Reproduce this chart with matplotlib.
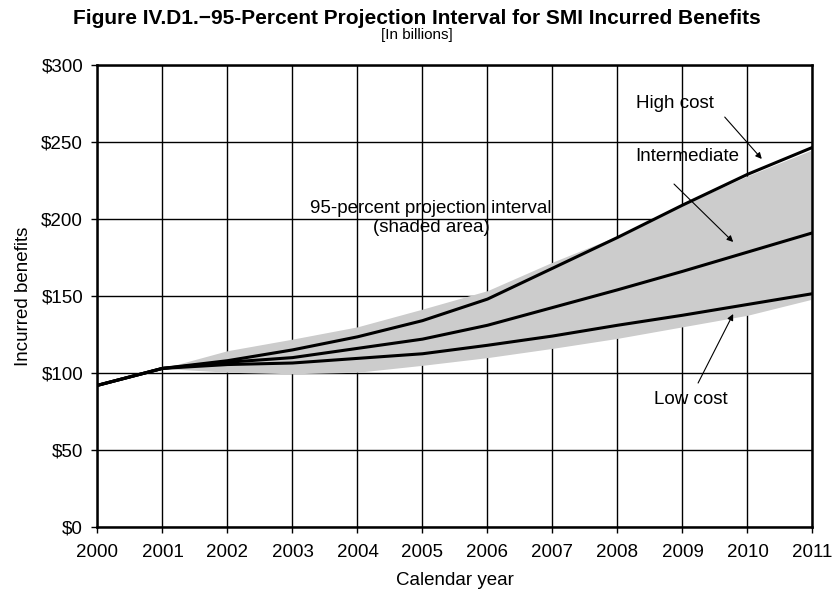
import matplotlib
matplotlib.use('Agg')
import matplotlib.pyplot as plt
from matplotlib.ticker import FuncFormatter

plt.rcParams['font.family'] = ['Liberation Sans', 'DejaVu Sans']

years = list(range(2000, 2012))
high_cost = [92, 103, 108, 115, 123.5, 134, 148, 168, 188, 209, 229, 246.5]
intermediate = [92, 103, 107, 110, 116, 122, 131, 142.5, 154, 166, 178.5, 191]
low_cost = [92, 103, 105.5, 106.5, 109.5, 112.5, 118, 124, 131, 137.5, 144.5, 151.5]

# 95-percent projection interval, starts in 2001
band_years = list(range(2001, 2012))
band_upper = [103, 114.5, 122, 130, 141.5, 153.5, 172, 189, 209, 228, 245]
band_lower = [103, 100.5, 99.5, 100.5, 105, 110, 116, 122.5, 130, 137.5, 148]

fig = plt.figure(figsize=(8.34, 6.03), dpi=100)
ax = fig.add_axes([0.1169, 0.1260, 0.8573, 0.7662])

ax.fill_between(band_years, band_lower, band_upper, color='#cccccc', lw=0, zorder=2)
for vals in (high_cost, intermediate, low_cost):
    ax.plot(years, vals, color='black', lw=2.2, zorder=3)

ax.set_xlim(2000, 2011)
ax.set_ylim(0, 300)
ax.set_xticks(years)
ax.set_yticks(range(0, 301, 50))
ax.yaxis.set_major_formatter(FuncFormatter(lambda v, p: f'${v:.0f}'))
ax.grid(True, color='black', lw=1.0, zorder=1)
ax.set_axisbelow(True)
for s in ax.spines.values():
    s.set_linewidth(1.8)
ax.tick_params(axis='both', direction='out', length=4.3, width=1, labelsize=13.5, colors='black')
ax.tick_params(axis='x', pad=8)
ax.tick_params(axis='y', pad=6)

ax.set_xlabel('Calendar year', fontsize=13.5, labelpad=8)
ax.set_ylabel('Incurred benefits', fontsize=13.5, labelpad=7)

fig.text(0.5, 0.97, 'Figure IV.D1.\u221295-Percent Projection Interval for SMI Incurred Benefits',
         ha='center', va='center', fontsize=15, fontweight='bold')
fig.text(0.5, 0.942, '[In billions]', ha='center', va='center', fontsize=11)

ax.text(2005.13, 200.6, '95-percent projection interval\n(shaded area)', ha='center', va='center',
        fontsize=13.5, linespacing=1.15, zorder=4)

arrow = dict(arrowstyle='-|>', color='black', lw=0.8, mutation_scale=9, shrinkA=0, shrinkB=0)
ax.text(2008.28, 275.3, 'High cost', ha='left', va='center', fontsize=13.5)
ax.annotate('', xy=(2010.22, 239), xytext=(2009.65, 266.2), arrowprops=arrow)
ax.text(2008.28, 240.3, 'Intermediate', ha='left', va='center', fontsize=13.5)
ax.annotate('', xy=(2009.78, 185.1), xytext=(2008.87, 222.7), arrowprops=arrow)
ax.text(2009.13, 83.1, 'Low cost', ha='center', va='center', fontsize=13.5)
ax.annotate('', xy=(2009.78, 138.3), xytext=(2009.24, 93.5), arrowprops=arrow)

fig.savefig('out.png', dpi=100)
